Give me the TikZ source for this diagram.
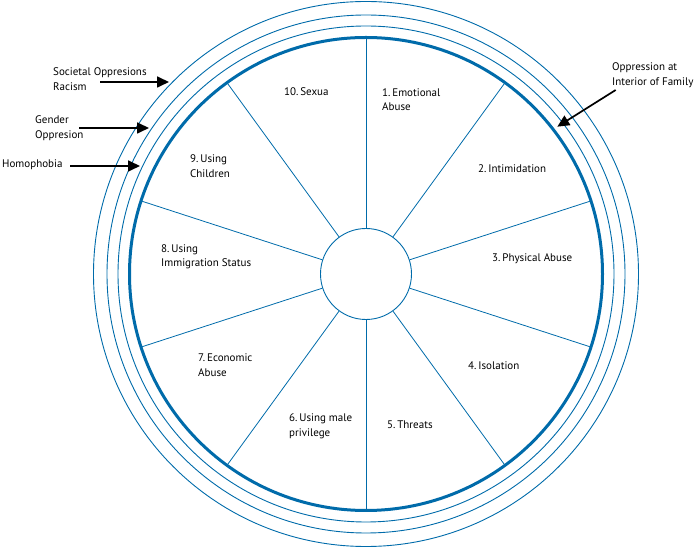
\documentclass[tikz,border=0pt]{standalone}
\usepackage{fontspec}
\setmainfont{PT Sans}
\usetikzlibrary{calc,arrows.meta,positioning}
\definecolor{wheelblue}{RGB}{0,107,170}
\tikzstyle{ring} = [wheelblue, line width=0.9pt]
\tikzstyle{rim} = [wheelblue, line width=3pt]
\tikzstyle{spoke} = [wheelblue, line width=0.8pt]
\tikzstyle{lbl} = [anchor=west, inner sep=0pt, align=left, font=\fontsize{11}{14.5}\selectfont]
\tikzstyle{pointer} = [line width=1.7pt, -{Triangle[length=12pt,width=11pt]}]

\begin{document}
\begin{tikzpicture}[x=1pt,y=1pt]
	\useasboundingbox (0,0) rectangle (697,549);

	% Ringe
	\coordinate (c) at (366,275);
	\draw[ring] (c) circle (272.5pt);
	\draw[ring] (c) circle (259pt);
	\draw[ring] (c) circle (248pt);
	\draw[rim] (c) circle (236.5pt);

	% Nabe und Speichen
	\node[draw=wheelblue, line width=0.9pt, circle, minimum size=91pt, inner sep=0pt] (hub) at (c) {};
	\foreach \a in {90,54,18,-18,-54,-90,-126,-162,162,126}
		\draw[spoke] (hub.\a) -- ($(c)+(\a:236.5pt)$);

	% Sektoren
	\node[lbl] (emotional) at (382,449.5) {1.\,Emotional\\Abuse};
	\node[lbl] (intimidation) at (478,380) {2.\,Intimidation};
	\node[lbl] (physical) at (492,290) {3.\,Physical Abuse};
	\node[lbl] (isolation) at (468,183) {4.\,Isolation};
	\node[lbl] (threats) at (387,124) {5.\,Threats};
	\node[lbl] (privilege) at (289,122.7) {6.\,Using male\\privilege};
	\node[lbl] (economic) at (198,183.7) {7.\,Economic\\Abuse};
	\node[lbl] (immigration) at (161,292) {8.\,Using\\Immigration Status};
	\node[lbl] (children) at (190,383) {9.\,Using\\Children};
	\node[lbl] (sexual) at (284,457) {10.\,Sexua};

	% Unterdrueckung
	\node[lbl] (societal) at (53,470) {Societal Oppresions\\Racism};
	\node[lbl] (gender) at (35,421) {Gender\\Oppresion};
	\node[lbl] (homophobia) at (2,384) {Homophobia};
	\node[lbl] (family) at (612,474) {Oppression at\\Interior of Family};

	\coordinate (societalstart) at (100,467);
	\coordinate (societaltip) at (169,467);
	\coordinate (genderstart) at (79,421);
	\coordinate (gendertip) at (149,421);
	\coordinate (homophobiastart) at (70,383);
	\coordinate (homophobiatip) at (140,383);
	\coordinate (familystart) at (615.7,459);
	\coordinate (familytip) at (557.3,422.3);

	\draw[pointer] (societalstart) -- (societaltip);
	\draw[pointer] (genderstart) -- (gendertip);
	\draw[pointer] (homophobiastart) -- (homophobiatip);
	\draw[pointer] (familystart) -- (familytip);
\end{tikzpicture}
\end{document}
